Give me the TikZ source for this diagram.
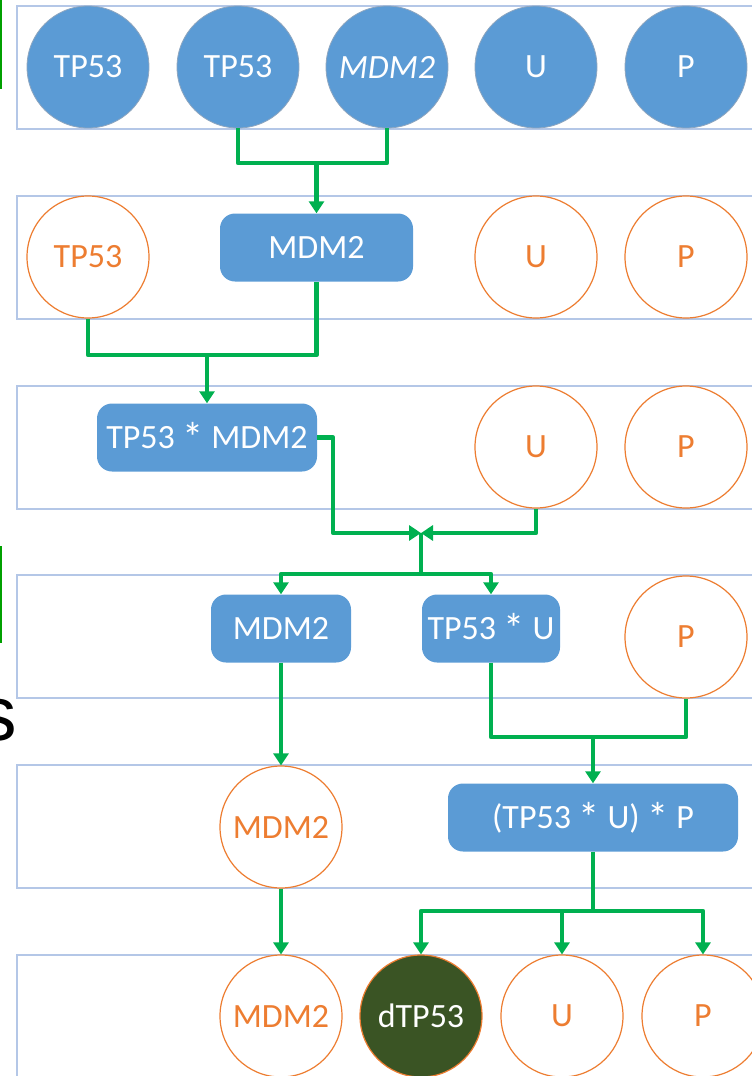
\documentclass[tikz,border=0pt]{standalone}
\usepackage{fontspec}
\setmainfont{Carlito}
\newfontfamily\slidefont{Liberation Sans}
\usepackage{tikz}
\usetikzlibrary{arrows.meta}

\definecolor{nodeblue}{HTML}{5B9BD5}
\definecolor{nodeedge}{HTML}{8FA6BF}
\definecolor{outorange}{HTML}{ED7D31}
\definecolor{bandblue}{HTML}{B4C7E7}
\definecolor{linkgreen}{HTML}{00B050}
\definecolor{deadgreen}{HTML}{3A5424}
\definecolor{slidegreen}{HTML}{00A000}

\newcommand\opstar{\raisebox{-0.12em}{\scalebox{1.25}{*}}}

\begin{document}
\begin{tikzpicture}[x=1pt,y=-1pt,
  band/.style={draw=bandblue,line width=1.5pt},
  main node/.style={circle,fill=nodeblue,draw=nodeedge,line width=0.8pt,minimum size=122pt,inner sep=0pt,text=white,font=\fontsize{34}{34}\selectfont},
  out node/.style={circle,fill=white,draw=outorange,line width=1.2pt,minimum size=122pt,inner sep=0pt,text=outorange,font=\fontsize{34}{34}\selectfont},
  dead node/.style={circle,fill=deadgreen,draw=outorange,line width=1.2pt,minimum size=122pt,inner sep=0pt,text=white,font=\fontsize{34}{34}\selectfont},
  box node/.style={rectangle,rounded corners=15pt,fill=nodeblue,minimum height=68pt,inner sep=0pt,text=white,font=\fontsize{34}{34}\selectfont},
  link/.style={draw=linkgreen,line width=4.5pt,line join=round},
  arr/.style={link,-{Triangle[width=15pt,length=12pt]}}]
  \useasboundingbox (0,0) rectangle (752,1076);
  \clip (0,0) rectangle (752,1076);

  % bands
  \foreach \y in {6,196,386,575,765,955}
    \draw[band] (17,\y) rectangle (770,\y+123);

  % bits of the slide behind
  \draw[slidegreen,line width=1.5pt] (0.8,0) -- (0.8,89);
  \draw[slidegreen,line width=1.5pt] (0.8,546) -- (0.8,643);
  \node[anchor=base east,inner sep=0pt,font=\slidefont\fontsize{77}{77}\selectfont] (s) at (17,740) {s};

  % row 1
  \node[main node] (a1) at (88,67) {TP53};
  \node[main node] (a2) at (238,67) {TP53};
  \node[main node] (a3) at (387,67) {\itshape MDM2};
  \node[main node] (a4) at (536,67) {U};
  \node[main node] (a5) at (686,67) {P};

  % row 2
  \node[out node] (b1) at (88,257) {TP53};
  \node[box node,minimum width=193pt] (b2) at (316.5,247.5) {MDM2};
  \node[out node] (b3) at (536,257) {U};
  \node[out node] (b4) at (686,257) {P};

  % row 3
  \node[box node,minimum width=220pt] (c1) at (207,437.5) {TP53 \opstar\ MDM2};
  \node[out node] (c2) at (536,447) {U};
  \node[out node] (c3) at (686,447) {P};

  % row 4
  \node[box node,minimum width=140pt] (d1) at (281,628.5) {MDM2};
  \node[box node,minimum width=138pt] (d2) at (491,628.5) {TP53 \opstar\ U};
  \node[out node] (d3) at (686,637) {P};

  % row 5
  \node[out node] (e1) at (281,827) {MDM2};
  \node[box node,minimum width=290pt] (e2) at (593,817.5) {(TP53 \opstar\ U) \opstar\ P};

  % row 6
  \node[out node] (f1) at (281,1016) {MDM2};
  \node[dead node] (f2) at (421,1016) {dTP53};
  \node[out node] (f3) at (562,1016) {U};
  \node[out node] (f4) at (703,1016) {P};

  % joins
  \coordinate (j1) at (316.5,163);
  \coordinate (j2) at (207,355);
  \coordinate (j3) at (421,533);
  \coordinate (j4) at (421,574);
  \coordinate (j5) at (593,737);
  \coordinate (j6) at (593,911);

  \draw[link] (a2.south) |- (j1) -| (a3.south);
  \draw[arr] (j1) -- (b2.north);

  \draw[link] (b1.south) |- (j2) -| (b2.south);
  \draw[arr] (j2) -- (c1.north);

  \draw[arr] (c1.east) -- ++(16,0) |- (j3);
  \draw[arr] (c2.south) |- (j3);
  \draw[link] (j3) -- (j4);
  \draw[arr] (j4) -| (d1.north);
  \draw[arr] (j4) -| (d2.north);

  \draw[arr] (d1.south) -- (e1.north);
  \draw[link] (d2.south) |- (j5) -| (d3.south);
  \draw[arr] (j5) -- (e2.north);

  \draw[arr] (e1.south) -- (f1.north);
  \draw[link] (e2.south) -- (j6);
  \draw[arr] (j6) -| (f2.north);
  \draw[arr] (j6) -| (f3.north);
  \draw[arr] (j6) -| (f4.north);
\end{tikzpicture}
\end{document}
